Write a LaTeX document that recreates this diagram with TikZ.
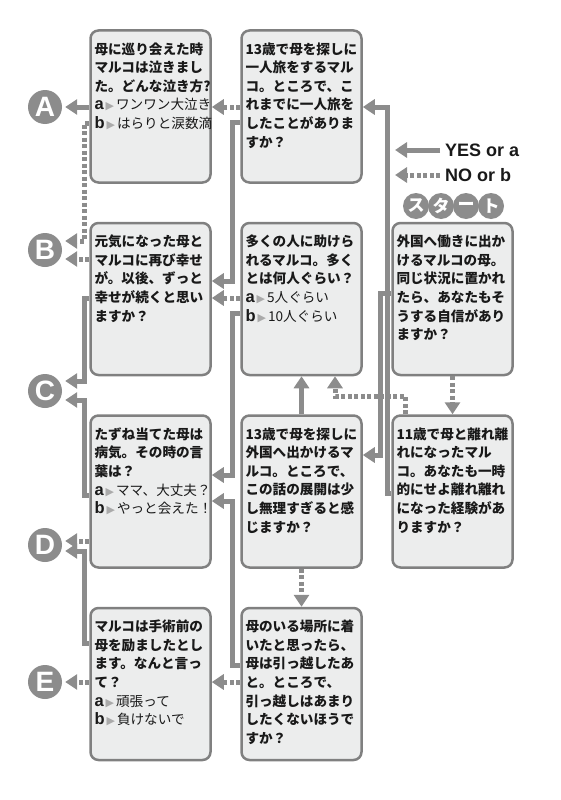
\documentclass[tikz,border=0pt]{standalone}
\usepackage{fontspec}
\setmainfont{Noto Sans CJK JP}
\newfontfamily\latinf{Liberation Sans}
\newfontfamily\symf{DejaVu Sans}
\usepackage{tikz}
\usetikzlibrary{positioning,arrows.meta}

\definecolor{linegray}{RGB}{140,140,140}
\definecolor{boxline}{RGB}{128,128,128}
\definecolor{boxfill}{RGB}{236,237,237}
\definecolor{trigray}{RGB}{170,170,170}
\definecolor{inkblack}{RGB}{25,25,25}

\newcommand{\qtext}[1]{\parbox[c][128pt][t]{112pt}{\raggedright\bfseries #1}}
\newcommand{\ans}[2]{{\latinf\bfseries\fontsize{16.5pt}{18.6pt}\selectfont #1}\kern2pt%
    {\symf\color{trigray}\fontsize{11pt}{11pt}\selectfont ▶}\kern2pt{\mdseries #2}}

\begin{document}
\begin{tikzpicture}[
    x=1pt, y=-1pt,
    qbox/.style={draw=boxline, line width=2.5pt, fill=boxfill, rounded corners=8pt,
        minimum width=120pt, minimum height=152pt, inner sep=0pt, text=inkblack,
        font=\fontsize{13.6pt}{18.6pt}\selectfont},
    endnode/.style={circle, fill=linegray, minimum size=34pt, inner sep=0pt, text=white,
        font=\latinf\bfseries\fontsize{28pt}{28pt}\selectfont},
    startdot/.style={circle, fill=linegray, minimum size=26pt, inner sep=0pt, text=white,
        font=\bfseries\fontsize{17pt}{17pt}\selectfont},
    legend/.style={anchor=west, inner sep=0pt, text=inkblack,
        font=\latinf\bfseries\fontsize{18pt}{18pt}\selectfont},
    yes/.style={draw=linegray, line width=5pt, -{Triangle[width=15pt,length=12pt]}},
    no/.style={yes, dash pattern=on 4pt off 2.5pt},
    node distance=38pt and 28.5pt
    ]
        \useasboundingbox (0,0) rectangle (560,800);

        %Nodes
        \node[qbox] (qA) at (150.5,106.5)
            {\qtext{母に巡り会えた時\\マルコは泣きまし\\た。どんな泣き方?\\\ans{a}{ワンワン大泣き}\\\ans{b}{はらりと涙数滴}}};
        \node[qbox] (q1) [right=of qA]
            {\qtext{13歳で母を探しに\\一人旅をするマル\\コ。ところで、こ\\れまでに一人旅を\\したことがありま\\すか？}};
        \node[qbox] (qB) [below=of qA]
            {\qtext{元気になった母と\\マルコに再び幸せ\\が。以後、ずっと\\幸せが続くと思い\\ますか？}};
        \node[qbox] (q2) [below=of q1]
            {\qtext{多くの人に助けら\\れるマルコ。多く\\とは何人ぐらい？\\\ans{a}{5人ぐらい}\\\ans{b}{10人ぐらい}}};
        \node[qbox] (qS) [right=of q2]
            {\qtext{外国へ働きに出か\\けるマルコの母。\\同じ状況に置かれ\\たら、あなたもそ\\うする自信があり\\ますか？}};
        \node[qbox] (qC) [below=of qB]
            {\qtext{たずね当てた母は\\病気。その時の言\\葉は？\\\ans{a}{ママ、大丈夫？}\\\ans{b}{やっと会えた！}}};
        \node[qbox] (q3) [below=of q2]
            {\qtext{13歳で母を探しに\\外国へ出かけるマ\\ルコ。ところで、\\この話の展開は少\\し無理すぎると感\\じますか？}};
        \node[qbox] (q11) [below=of qS]
            {\qtext{11歳で母と離れ離\\れになったマル\\コ。あなたも一時\\的にせよ離れ離れ\\になった経験があ\\りますか？}};
        \node[qbox] (qD) [below=of qC]
            {\qtext{マルコは手術前の\\母を励ましたとし\\ます。なんと言っ\\て？\\\ans{a}{頑張って}\\\ans{b}{負けないで}}};
        \node[qbox] (q4) [below=of q3]
            {\qtext{母のいる場所に着\\いたと思ったら、\\母は引っ越したあ\\と。ところで、\\引っ越しはあまり\\したくないほうで\\すか？}};

        \node[endnode] (eA) at (45,107) {A};
        \node[endnode] (eB) at (45,250) {B};
        \node[endnode] (eC) at (45,391) {C};
        \node[endnode] (eD) at (45,545) {D};
        \node[endnode] (eE) at (45,682) {E};

        %Legend
        \node[legend] (yesleg) at (445,150) {YES or a};
        \node[legend] (noleg)  at (445,175) {NO or b};
        \coordinate (yestip) at (395,150);
        \coordinate (notip)  at (395,175);
        \foreach \ch [count=\i] in {ス,タ,ー,ト}
            \node[startdot] (s\i) at (391+25*\i,206) {\ch};

        %Lines
        \draw[yes] ([xshift=-5pt]yesleg.west) -- (yestip);
        \draw[no]  ([xshift=-5pt]noleg.west) -- (notip);

        \draw[yes, shorten >=3pt] (qA.west |- 0,107) -- (eA.east |- 0,107);
        \draw[no, shorten >=3pt]  (qA.west |- 0,123) -- ++(-5,0) |- (eB.east |- 0,241);
        \draw[no, shorten >=3pt]  (qB.west |- 0,259) -- (eB.east |- 0,259);
        \draw[yes, shorten >=3pt] (qB.west |- 0,298) -- ++(-5,0) |- (eC.east |- 0,381);
        \draw[yes, shorten >=3pt] (qC.west |- 0,495) -- ++(-5,0) |- (eC.east |- 0,400);
        \draw[no, shorten >=3pt]  (qC.west |- 0,541) -- (eD.east |- 0,541);
        \draw[yes, shorten >=3pt] (qD.west |- 0,643) -- ++(-5,0) |- (eD.east |- 0,551);
        \draw[no, shorten >=3pt]  (qD.west |- 0,682) -- (eE.east |- 0,682);

        \draw[no]  (q1.west |- 0,107) -- (qA.east |- 0,107);
        \draw[yes] (q1.west |- 0,122) -- ++(-8,0) |- (qB.east |- 0,281);
        \draw[no]  (q2.west |- 0,298) -- (qB.east |- 0,298);
        \draw[yes] (q2.west |- 0,313) -- ++(-8,0) |- (qC.east |- 0,475);
        \draw[yes] (q4.west |- 0,665) -- ++(-8,0) |- (qC.east |- 0,501);
        \draw[no]  (q4.west |- 0,682) -- (qD.east |- 0,682);

        \draw[yes] (q3.north) -- (q2.south);
        \draw[no]  (q3.south) -- (q4.north);
        \draw[no]  (q11.north -| 405,0) -- ++(0,-18) -| (q2.south -| 335,0);
        \draw[no]  (qS.south) -- (q11.north);
        \draw[yes] (qS.west |- 0,293) -- ++(-11,0) |- (q3.east |- 0,455);
        \draw[yes] (q11.west |- 0,493) -- ++(-4,0) |- (q1.east |- 0,107);
\end{tikzpicture}
\end{document}
